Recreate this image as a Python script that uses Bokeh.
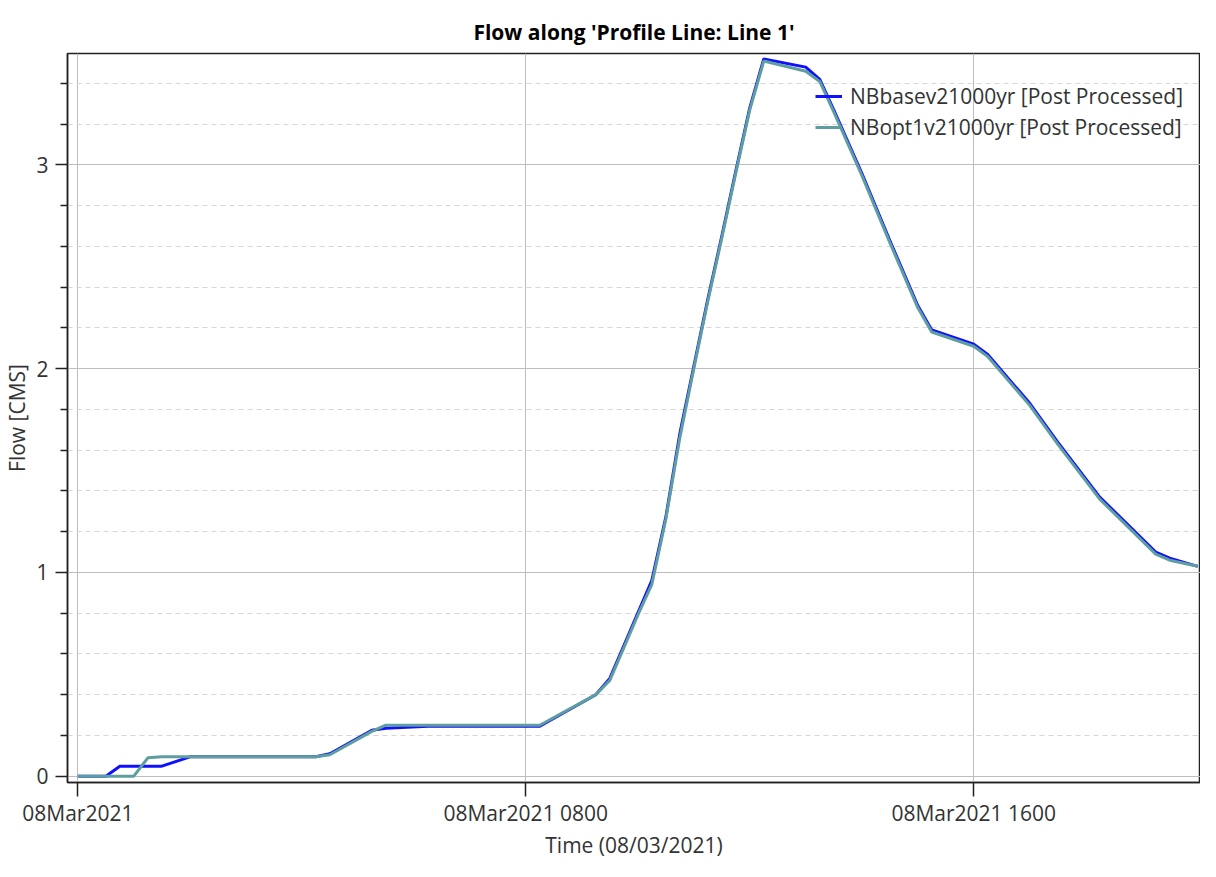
from bokeh.plotting import figure
from bokeh.models import Range1d, FixedTicker
from bokeh.embed import file_html
from bokeh.resources import INLINE

# ---- data (hours after 08Mar2021 00:00, flow in CMS) ----
series_names = ["NBbasev21000yr [Post Processed]", "NBopt1v21000yr [Post Processed]"]

hours_base = [0, 0.5, 0.75, 1.5, 2.0, 4.25, 4.5, 5.25, 5.5, 6.25, 8.25, 9.25, 9.5, 9.75,
              10.0, 10.25, 10.5, 10.75, 11.0, 11.25, 11.5, 11.75, 12.0, 12.25, 13.0, 13.25,
              13.5, 14.0, 14.5, 15.0, 15.25, 16.0, 16.25, 17.0, 17.5, 18.25, 19.25, 19.5, 20.0]
flow_base = [0, 0, 0.049, 0.049, 0.095, 0.095, 0.11, 0.225, 0.235, 0.245, 0.245, 0.40, 0.48, 0.64,
             0.80, 0.96, 1.27, 1.68, 2.01, 2.34, 2.65, 2.97, 3.28, 3.52, 3.48, 3.42,
             3.27, 2.96, 2.63, 2.31, 2.19, 2.12, 2.07, 1.83, 1.64, 1.37, 1.10, 1.07, 1.03]

hours_opt = [0, 1.0, 1.25, 1.5, 4.25, 4.5, 5.25, 5.5, 8.25, 9.25, 9.5, 9.75,
             10.0, 10.25, 10.5, 10.75, 11.0, 11.25, 11.5, 11.75, 12.0, 12.25, 13.0, 13.25,
             13.5, 14.0, 14.5, 15.0, 15.25, 16.0, 16.25, 17.0, 17.5, 18.25, 19.25, 19.5, 20.0]
flow_opt = [0, 0, 0.09, 0.095, 0.095, 0.105, 0.22, 0.25, 0.25, 0.40, 0.47, 0.63,
            0.79, 0.94, 1.26, 1.66, 2.0, 2.33, 2.64, 2.96, 3.27, 3.51, 3.46, 3.41,
            3.26, 2.95, 2.62, 2.30, 2.18, 2.11, 2.06, 1.82, 1.63, 1.36, 1.09, 1.06, 1.03]

x_tick_hours = [0, 8, 16]
x_tick_labels = ["08Mar2021", "08Mar2021 0800", "08Mar2021 1600"]
y_major_ticks = [0, 1, 2, 3]
y_minor_ticks = [0.2, 0.4, 0.6, 0.8, 1.2, 1.4, 1.6, 1.8, 2.2, 2.4, 2.6, 2.8, 3.2, 3.4]

FONT = "Open Sans"
TXT = "#333333"

p = figure(width=1200, height=861, output_backend="svg", toolbar_location=None,
           x_range=Range1d(-0.185, 20.05), y_range=Range1d(-0.031, 3.547),
           min_border_left=59, min_border_right=0, min_border_top=53, min_border_bottom=78,
           background_fill_color="white", border_fill_color="white")

p.title.text = "Flow along 'Profile Line: Line 1'"
p.title.align = "center"
p.title.text_font = FONT
p.title.text_font_style = "bold"
p.title.text_font_size = "21px"
p.title.text_color = "black"
p.title.standoff = 16

p.outline_line_color = "#222222"
p.outline_line_width = 1.5
p.outline_line_alpha = 1

# x axis
p.xaxis.ticker = FixedTicker(ticks=x_tick_hours, minor_ticks=[])
p.xaxis.major_label_overrides = {t: l for t, l in zip(x_tick_hours, x_tick_labels)}
p.xaxis.axis_label = "Time (08/03/2021)"
# y axis
p.yaxis.ticker = FixedTicker(ticks=y_major_ticks, minor_ticks=y_minor_ticks)
p.yaxis.axis_label = "Flow [CMS]"

for ax in (p.xaxis[0], p.yaxis[0]):
    ax.axis_line_color = "#222222"
    ax.axis_line_width = 1.5
    ax.major_tick_in = 0
    ax.minor_tick_in = 0
    ax.major_tick_line_color = "#222222"
    ax.minor_tick_line_color = "#222222"
    ax.major_tick_line_width = 1.5
    ax.minor_tick_line_width = 1.5
    ax.major_label_text_font = FONT
    ax.major_label_text_font_size = "21px"
    ax.major_label_text_color = TXT
    ax.axis_label_text_font = FONT
    ax.axis_label_text_font_size = "21px"
    ax.axis_label_text_font_style = "normal"
    ax.axis_label_text_color = TXT

p.xaxis.major_tick_out = 14
p.xaxis.major_label_standoff = 2
p.xaxis.axis_label_standoff = 1
p.yaxis.major_tick_out = 12
p.yaxis.minor_tick_out = 7
p.yaxis.major_label_standoff = 7
p.yaxis.axis_label_standoff = 2
p.yaxis.major_label_orientation = "horizontal"

# grids
p.xgrid.grid_line_color = "#bdbdbd"
p.xgrid.grid_line_width = 1
p.ygrid.grid_line_color = "#bdbdbd"
p.ygrid.grid_line_width = 1
p.ygrid.minor_grid_line_color = "#d6d6d6"
p.ygrid.minor_grid_line_dash = "5 4"
p.ygrid.minor_grid_line_width = 1

p.line(hours_base, flow_base, line_color="#1010ff", line_width=3, legend_label=series_names[0])
p.line(hours_opt, flow_opt, line_color="#5f9ea0", line_width=3, legend_label=series_names[1])

lg = p.legend[0]
lg.location = (748, 640)
lg.background_fill_alpha = 0
lg.border_line_alpha = 0
lg.margin = 0
lg.padding = 0
lg.spacing = 1
lg.label_height = 30
lg.glyph_height = 30
lg.glyph_width = 27
lg.label_standoff = 8
lg.label_text_font = FONT
lg.label_text_font_size = "21px"
lg.label_text_color = TXT

open("out.html", "w").write(file_html(p, INLINE))
